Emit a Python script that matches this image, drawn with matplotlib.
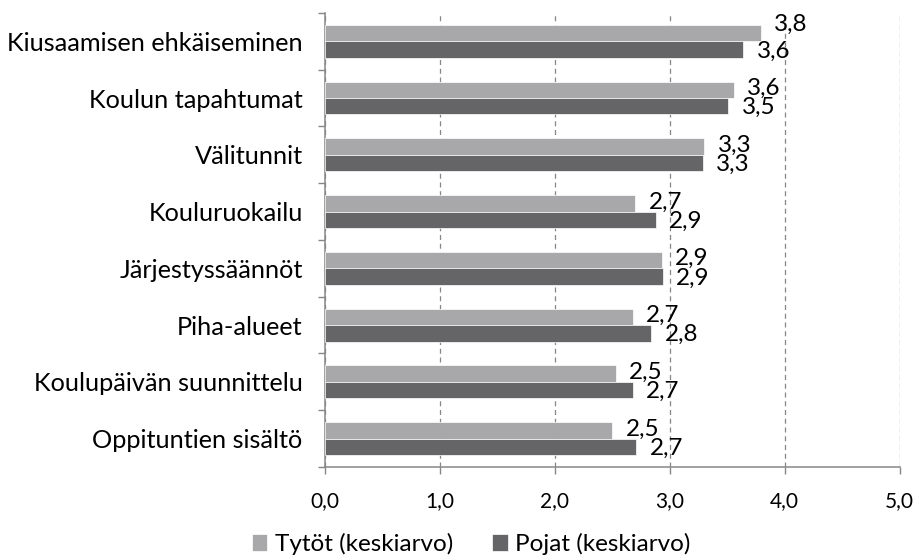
import numpy as np
import matplotlib
matplotlib.use('Agg')
import matplotlib.pyplot as plt
from matplotlib.ticker import FixedLocator, FuncFormatter

plt.rcParams['font.family'] = ['Lato', 'DejaVu Sans']

categories = ['Kiusaamisen ehkäiseminen', 'Koulun tapahtumat', 'Välitunnit',
              'Kouluruokailu', 'Järjestyssäännöt', 'Piha-alueet',
              'Koulupäivän suunnittelu', 'Oppituntien sisältö']
girls = [3.79, 3.56, 3.30, 2.70, 2.93, 2.68, 2.53, 2.50]
boys  = [3.64, 3.51, 3.29, 2.88, 2.94, 2.84, 2.68, 2.71]
series_names = ['Tytöt (keskiarvo)', 'Pojat (keskiarvo)']
x_ticks = [0, 1, 2, 3, 4, 5]

c_girls = '#A8A8AA'
c_boys  = '#656567'
axis_c  = '#868686'

fig = plt.figure(figsize=(9.18, 5.59), dpi=100)
ax = fig.add_axes([0.354, 0.1646, 0.626, 0.8124])

y = np.arange(len(categories))
h = 0.29
ax.barh(y - h/2, girls, height=h, color=c_girls, edgecolor='white', lw=0.5,
        label=series_names[0], zorder=3)
ax.barh(y + h/2, boys, height=h, color=c_boys, edgecolor='white', lw=0.5,
        label=series_names[1], zorder=3)

def fmt(v):
    return ('%.1f' % v).replace('.', ',')

for i in range(len(categories)):
    dy_g = 6 if i == 0 else 1
    ax.annotate(fmt(girls[i]), (girls[i], y[i] - h/2), xytext=(9.5, dy_g),
                textcoords='offset points', va='center', ha='left', fontsize=17.5)
    ax.annotate(fmt(boys[i]), (boys[i], y[i] + h/2), xytext=(9.5, -1),
                textcoords='offset points', va='center', ha='left', fontsize=17.5)

ax.set_xlim(0, 5)
ax.set_ylim(len(categories) - 0.5, -0.5)
ax.xaxis.set_major_locator(FixedLocator(x_ticks))
ax.xaxis.set_major_formatter(FuncFormatter(lambda v, p: fmt(v)))
ax.tick_params(axis='x', length=5, width=1, color=axis_c, pad=12, labelsize=15)

ax.set_yticks(y)
ax.set_yticklabels(categories, fontsize=18.2)
ax.set_yticks(np.arange(-0.5, len(categories)), minor=True)
ax.tick_params(axis='y', which='major', length=0, pad=16)
ax.tick_params(axis='y', which='minor', length=5, width=1, color=axis_c)

ax.grid(axis='x', color=axis_c, ls=(0, (4, 3)), lw=0.9, zorder=0)
for s in ['top', 'right']:
    ax.spines[s].set_visible(False)
for s in ['left', 'bottom']:
    ax.spines[s].set_color(axis_c)
    ax.spines[s].set_linewidth(1.1)

fig.legend(loc='center', bbox_to_anchor=(0.513, 0.027), ncol=2, frameon=False,
           fontsize=17.5, handlelength=0.65, handleheight=0.65, handletextpad=0.3,
           columnspacing=1.6, borderpad=0)

fig.savefig('out.png', dpi=100)
